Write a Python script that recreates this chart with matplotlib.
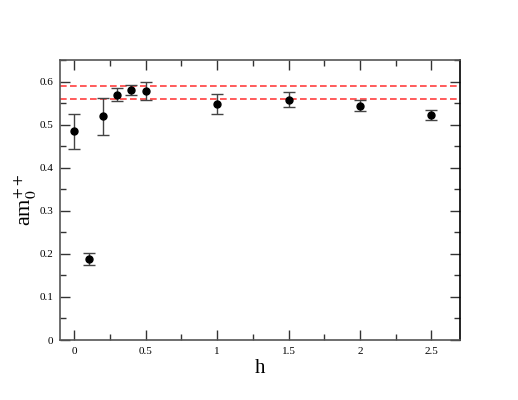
import matplotlib
matplotlib.use("Agg")
import matplotlib.pyplot as plt
from matplotlib.ticker import MultipleLocator, FuncFormatter

plt.rcParams['font.family'] = ['Liberation Serif', 'DejaVu Serif']
plt.rcParams['mathtext.fontset'] = 'stix'

h = [0.0, 0.1, 0.2, 0.3, 0.4, 0.5, 1.0, 1.5, 2.0, 2.5]
am = [0.485, 0.188, 0.520, 0.569, 0.580, 0.577, 0.548, 0.558, 0.544, 0.522]
err_lo = [0.042, 0.013, 0.043, 0.015, 0.011, 0.021, 0.023, 0.018, 0.013, 0.012]
err_hi = [0.040, 0.014, 0.042, 0.015, 0.012, 0.022, 0.023, 0.018, 0.012, 0.013]
band = [0.56, 0.59]

fig = plt.figure(figsize=(5.18, 4.0), dpi=100)
ax = fig.add_axes([60/518, 60/400, 400/518, 280/400])

for yv in band:
    ax.axhline(yv, color='red', alpha=0.75, lw=1.2, ls=(0, (4, 2)), zorder=1)

ax.errorbar(h, am, yerr=[err_lo, err_hi], fmt='o', color='black', ms=5,
            ecolor='#444444', elinewidth=1.0, capsize=4, capthick=1.0, zorder=3)

ax.set_xlim(-0.1, 2.7)
ax.set_ylim(0, 0.65)
ax.xaxis.set_major_locator(MultipleLocator(0.5))
ax.xaxis.set_minor_locator(MultipleLocator(0.25))
ax.yaxis.set_major_locator(MultipleLocator(0.1))
ax.yaxis.set_minor_locator(MultipleLocator(0.05))
ax.xaxis.set_major_formatter(FuncFormatter(lambda v, p: '%g' % v))
ax.yaxis.set_major_formatter(FuncFormatter(lambda v, p: '%g' % round(v, 2)))

ax.tick_params(which='both', direction='in', top=True, right=True, colors='#333333',
               labelcolor='black', labelsize=8, width=1.0)
ax.tick_params(which='major', length=7, pad=5)
ax.tick_params(which='minor', length=4)

for s in ['left', 'bottom', 'top']:
    ax.spines[s].set_color('#555555')
ax.spines['right'].set_color('black')
for s in ax.spines.values():
    s.set_linewidth(1.2)

ax.set_xlabel('h', fontsize=15, labelpad=2)
ax.set_ylabel(r'am$_0^{++}$', fontsize=16, labelpad=0)

fig.savefig('out.png', dpi=100)
